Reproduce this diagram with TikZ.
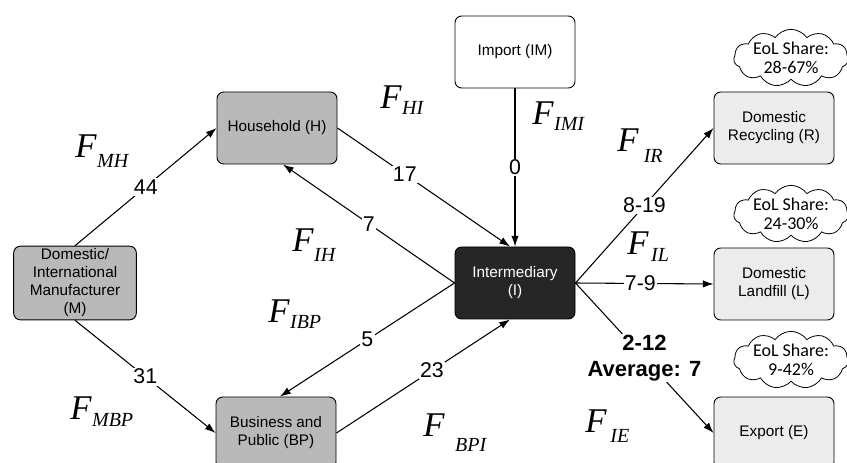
\documentclass[tikz,border=0pt]{standalone}
\usepackage{fontspec}
\setmainfont{Liberation Sans}
\newfontfamily\eolfont{Carlito}
\newfontfamily\timesfont{Liberation Serif}
\usetikzlibrary{arrows.meta,shapes.symbols}
% flow symbol: \flowF[gap]{drop}{subscript}
\newcommand{\flowF}[3][0.5pt]{{\timesfont\itshape\fontsize{26}{28}\selectfont F\kern#1\raisebox{#2}{\fontsize{15}{15}\selectfont #3}}}

\begin{document}
\begin{tikzpicture}[x=0.75pt, y=-0.75pt, >={Latex[length=8pt,width=5.5pt]},
  box/.style={draw, line width=0.7pt, rounded corners=5pt, minimum width=90pt, minimum height=54pt,
    align=center, inner sep=2pt, font=\fontsize{11.5}{13.5}\selectfont},
  midbox/.style={box, fill=gray!55},
  darkbox/.style={box, fill=black!85, text=white},
  lightbox/.style={box, fill=gray!15},
  plainbox/.style={box, fill=white},
  eol/.style={cloud, draw, line width=0.6pt, cloud puffs=11, cloud puff arc=110, aspect=2.4,
    minimum width=86pt, minimum height=43pt, inner sep=-3pt, align=center,
    font=\eolfont\fontsize{13.5}{14.5}\selectfont},
  num/.style={fill=white, inner sep=1pt, font=\fontsize{16}{18}\selectfont},
  flow/.style={anchor=base west, inner sep=0pt}]
 \useasboundingbox (0,0) rectangle (847,463);

 % actors
 \node[midbox, minimum width=92pt] (M) at (75,283) {Domestic/\\International\\Manufacturer\\(M)};
 \node[midbox] (H) at (277,128) {Household (H)};
 \node[midbox] (BP) at (276,433) {Business and\\Public (BP)};
 \node[plainbox] (IM) at (515,52) {Import (IM)};
 \node[darkbox] (I) at (515,283) {Intermediary\\(I)};
 \node[lightbox] (R) at (774,128) {Domestic\\Recycling (R)};
 \node[lightbox] (L) at (774,284) {Domestic\\Landfill (L)};
 \node[lightbox] (E) at (774,433) {Export (E)};

 % end-of-life shares
 \node[eol] (eolR) at (791,58) {EoL Share:\\28-67\%};
 \node[eol] (eolL) at (791,214) {EoL Share:\\24-30\%};
 \node[eol] (eolE) at (791,360) {EoL Share:\\9-42\%};

 % flows
 \draw[->, line width=0.8pt] (M.north) -- node[num] {44} (H.west);
 \draw[->, line width=0.8pt] (M.south) -- node[num] {31} (BP.west);
 \draw[->, line width=0.8pt] (H.east) -- node[num, pos=0.39] {17} ([xshift=-3.75pt]I.north);
 \draw[->, line width=0.8pt] (I.west) -- node[num] {7} ([xshift=4.5pt]H.south);
 \draw[->, line width=0.8pt] (I.west) -- node[num] {5} ([xshift=3pt]BP.north);
 \draw[->, line width=0.8pt] (BP.east) -- node[num, pos=0.55] {23} ([xshift=-3.75pt]I.south);
 \draw[->, line width=0.8pt] (IM) -- node[num] {0} (I);
 \draw[->, line width=0.8pt] (I.east) -- node[num, pos=0.5] {8-19} (R.west);
 \draw[->, line width=0.8pt] (I.east) -- node[num, pos=0.47] {7-9} (L.west);
 \draw[->, line width=0.8pt] (I.east) -- node[num, align=center, font=\bfseries\fontsize{16.5}{19}\selectfont]
   {2-12\\Average: 7} (E.west);

 % flow names
 \node[flow] (fMH) at (75,158) {\flowF{-7.5pt}{MH}};
 \node[flow] (fHI) at (380,109) {\flowF{-4.5pt}{HI}};
 \node[flow] (fIMI) at (532,125) {\flowF{-4pt}{IMI}};
 \node[flow] (fIR) at (617,152) {\flowF[4pt]{-8pt}{IR}};
 \node[flow] (fIL) at (627,255) {\flowF[2pt]{-5pt}{IL}};
 \node[flow] (fIH) at (292,252) {\flowF{-7.5pt}{IH}};
 \node[flow] (fIBP) at (268,323) {\flowF{-4pt}{IBP}};
 \node[flow] (fMBP) at (70,420) {\flowF{-5pt}{MBP}};
 \node[flow] (fBPI) at (423,437) {\flowF[8pt]{-11pt}{BPI}};
 \node[flow] (fIE) at (585,433) {\flowF[3pt]{-7pt}{IE}};
\end{tikzpicture}
\end{document}
